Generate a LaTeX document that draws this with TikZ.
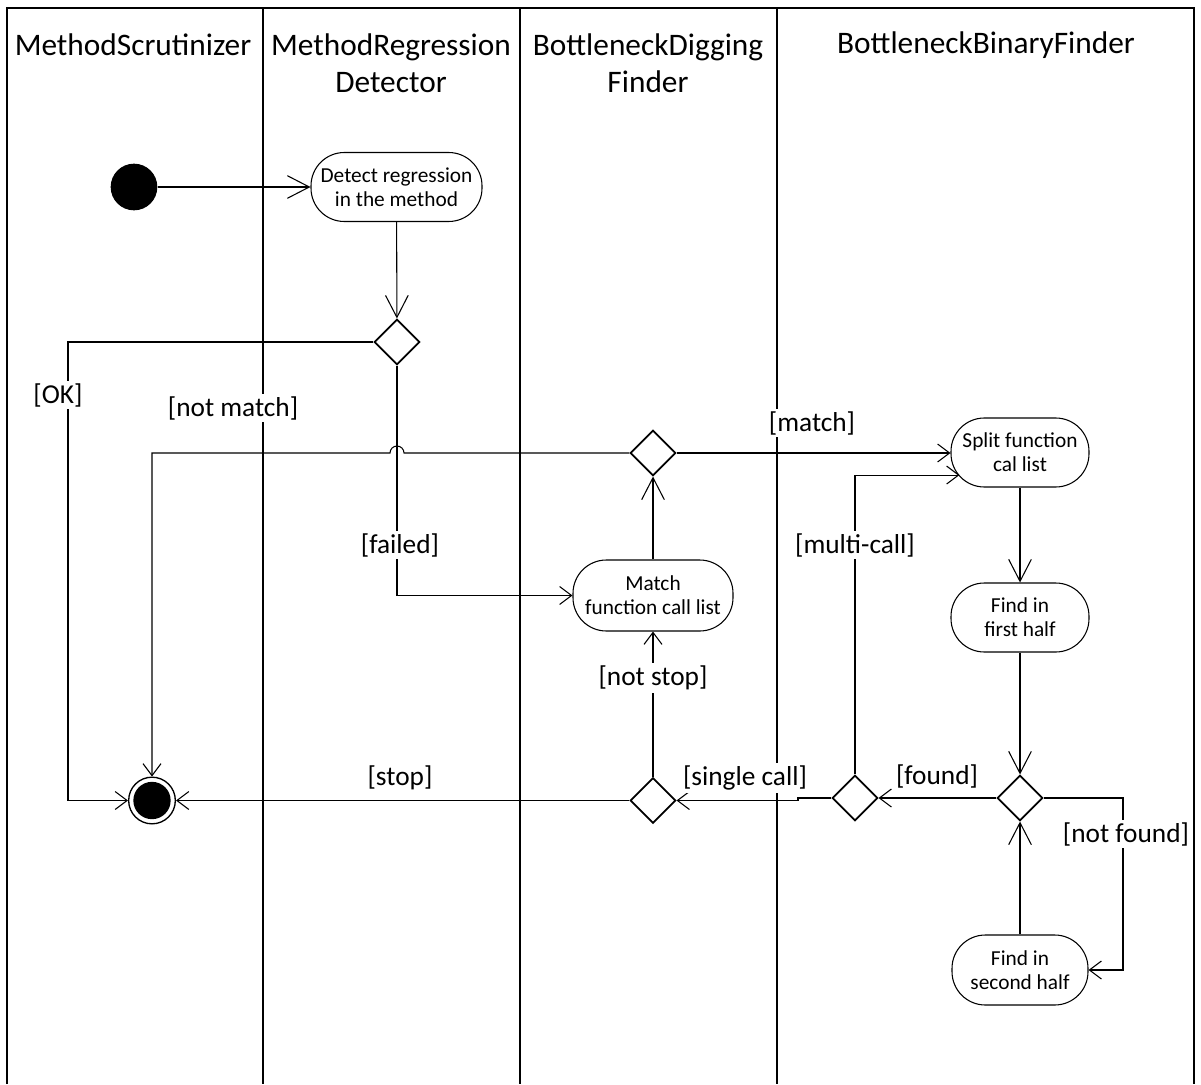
\documentclass[tikz,border=0pt]{standalone}
\usepackage{fontspec}
\setmainfont{Carlito}
\usetikzlibrary{arrows.meta,shapes.geometric}

\begin{document}
\begin{tikzpicture}[x=0.75pt,y=-0.75pt,
  lane/.style={line width=1.5pt},
  header/.style={font=\fontsize{23.5}{27.75}\selectfont, align=center},
  activity/.style={draw, line width=0.8pt, rounded corners=25pt, align=center,
    font=\fontsize{16}{18}\selectfont, inner sep=0pt, fill=white},
  decision/.style={draw, diamond, aspect=1, minimum size=34pt, inner sep=0pt,
    line width=1.3pt, fill=white},
  flow/.style={line width=0.8pt},
  longarr/.style={-{Straight Barb[length=16.5pt,width=17pt]}},
  shortarr/.style={-{Straight Barb[length=9pt,width=13.5pt]}},
  guard/.style={font=\fontsize{20.5}{24}\selectfont, fill=white, inner sep=2pt}
]
\useasboundingbox (0,0) rectangle (1201,1084);

% swimlane frame and dividers (open at the bottom)
\draw[lane] (7,1084) -- (7,8) -- (1194,8) -- (1194,1084);
\draw[lane] (263,8) -- (263,1084);
\draw[lane] (520,8) -- (520,1084);
\draw[lane] (777,8) -- (777,1084);

% lane headers
\node[header] (h1) at (133,45) {MethodScrutinizer};
\node[header] (h2) at (391,63.5) {MethodRegression\\Detector};
\node[header] (h3) at (648,63.5) {BottleneckDigging\\Finder};
\node[header] (h4) at (986,45) {BottleneckBinaryFinder};

% initial and final nodes
\node[circle, fill=black, minimum size=35pt, inner sep=0pt] (start) at (134,187) {};
\node[circle, draw, line width=1pt, minimum size=35pt, inner sep=0pt, fill=white] (fin) at (152,800.5) {};
\fill (fin.center) circle (14pt);

% activities
\node[activity, minimum width=128.25pt, minimum height=51.75pt] (detect) at (396.5,187) {Detect regression\\in the method};
\node[activity, minimum width=120pt, minimum height=53.25pt] (match) at (653,595.5) {Match\\function call list};
\node[activity, minimum width=103.5pt, minimum height=51.75pt] (split) at (1020,452.5) {Split function\\cal list};
\node[activity, minimum width=103.5pt, minimum height=51.75pt] (first) at (1020,617.5) {Find in\\first half};
\node[activity, minimum width=102pt, minimum height=52.5pt] (second) at (1020,970) {Find in\\second half};

% decisions
\node[decision] (d1) at (397,342) {};
\node[decision] (d2) at (653,453) {};
\node[decision] (d3) at (653,800.5) {};
\node[decision] (d4) at (855,798) {};
\node[decision] (d5) at (1020,798) {};

% corner points
\coordinate (okc) at (68,800.5);
\coordinate (nfc) at (1123,970);

% flows
\draw[flow,longarr] (start) -- (detect);
\draw[flow,longarr] (detect) -- (d1);
\draw[flow,shortarr] (d1.west) -| (okc) -- (fin.west);
\draw[flow,shortarr] (d1.south) |- (match.west);
\draw[flow,shortarr] (d2.west) -- (404,453) arc[start angle=0,end angle=180,radius=5.25pt]
  -- (fin.north |- d2.west) -- (fin.north);
\draw[flow,shortarr] (d2.east) -- (d2 -| split.west);
\draw[flow,longarr] (match.north) -- (d2.south);
\draw[flow,shortarr] (d3.north) -- (match.south);
\draw[flow,shortarr] (d3.west) -- (fin.east);
\draw[flow,shortarr] (d4.west) -- (798,798) -- (798,800.5) -- (d3.east);
\draw[flow,shortarr] (d4.north) |- ([xshift=6.75pt,yshift=-16.9pt]split.west);
\draw[flow,longarr] (split.south) -- (first.north);
\draw[flow,longarr] (first.south) -- (d5.north);
\draw[flow,longarr] (second.north) -- (d5.south);
\draw[flow,shortarr] (d5.west) -- (d4.east);
\draw[flow,shortarr] (d5.east) -| (nfc) -- (second.east);

% guards
\node[guard] (gok) at (58,395) {[OK]};
\node[guard] (gnm) at (233,408) {[not match]};
\node[guard] (gm) at (812,423) {[match]};
\node[guard] (gfail) at (400,545) {[failed]};
\node[guard] (gmc) at (855,545) {[multi-call]};
\node[guard] (gns) at (653,678) {[not stop]};
\node[guard] (gstop) at (400,778) {[stop]};
\node[guard] (gsc) at (745,778) {[single call]};
\node[guard] (gfound) at (937,776) {[found]};
\node[guard] (gnf) at (1126,834) {[not found]};
\end{tikzpicture}
\end{document}
